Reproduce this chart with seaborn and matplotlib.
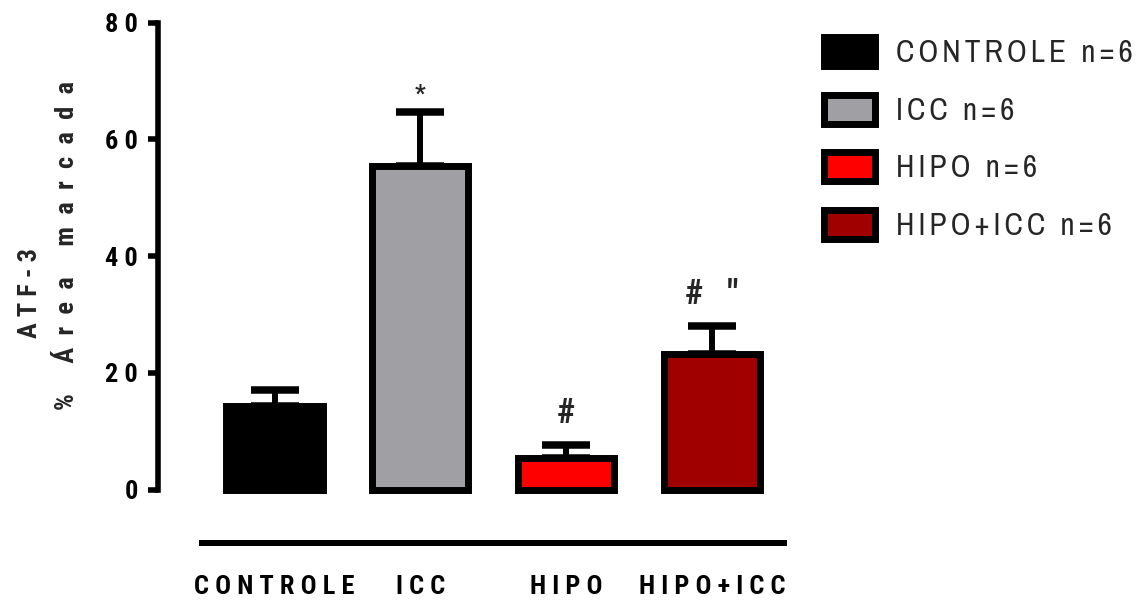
import matplotlib
matplotlib.use("Agg")
import matplotlib.pyplot as plt
from matplotlib import font_manager
from matplotlib.font_manager import FontProperties
from matplotlib.patches import Patch
import seaborn as sns
import pandas as pd

# Data
groups = ["CONTROLE", "ICC", "HIPO", "HIPO+ICC"]
means = [14.3, 55.4, 5.4, 23.3]
sems = [2.7, 9.3, 2.2, 4.7]
colors = ["#000000", "#a09fa4", "#ff0000", "#a00000"]
legend_labels = ["CONTROLE n=6", "ICC n=6", "HIPO n=6", "HIPO+ICC n=6"]
yticks = [0, 20, 40, 60, 80]

sns.set_theme(style="white")
FAMILY = ["Archivo Narrow", "Liberation Sans", "DejaVu Sans"]
plt.rcParams["font.family"] = FAMILY

# a bold narrow face for the axis texts
BOLD_NARROW = ["Roboto Condensed", "Archivo Narrow", "PT Sans Narrow",
               "Asap Condensed", "IBM Plex Sans Condensed", "Encode Sans Condensed",
               "Sofia Sans Condensed", "Saira SemiCondensed"]


def bold_file():
    fonts = font_manager.fontManager.ttflist
    for fam in BOLD_NARROW:
        hits = [f for f in fonts if f.name == fam and f.style == "normal"
                and isinstance(f.weight, int) and 650 <= f.weight <= 750]
        if hits:
            return hits[0].fname
    return None


_bf = bold_file()


def bold(size):
    if _bf:
        return FontProperties(fname=_bf, size=size)
    return FontProperties(family=["Liberation Sans"], weight="bold", size=size)


def spaced(s, sep=" "):
    return sep.join(s)


df = pd.DataFrame({"grupo": groups, "valor": means})

fig = plt.figure(figsize=(11.47, 6.01), dpi=100)
# axes box: y = 0 at 489.5 px, y = 80 at 22.7 px; first bar centre at 274.5 px, 145.8 px per bar
ax_left, ax_right = 158, 800
ax_top, ax_bot = 22.7, 489.5 + 5.835 * 1.0
ax = fig.add_axes([ax_left / 1147, (601 - ax_bot) / 601,
                   (ax_right - ax_left) / 1147, (ax_bot - ax_top) / 601])

sns.barplot(data=df, x="grupo", y="valor", hue="grupo", palette=colors,
            order=groups, hue_order=groups, legend=False, width=0.66,
            edgecolor="black", linewidth=5.0, ax=ax, errorbar=None, saturation=1)
for p in ax.patches:
    p.set_clip_on(False)

# upper-only error bars (SEM)
xs = list(range(len(groups)))
ax.errorbar(xs, means, yerr=[[0] * 4, sems], fmt="none", ecolor="black",
            elinewidth=4.3, capsize=17.6, capthick=5.4, zorder=0.5, clip_on=False)

ax.set_xlim(-(274.5 - ax_left) / 145.8, (ax_right - 274.5) / 145.8)
ax.set_ylim(-1.0, 80)
ax.spines["left"].set_bounds(0, 80)
ax.spines["left"].set_linewidth(4.0)
ax.spines["left"].set_color("black")
for s in ["top", "right", "bottom"]:
    ax.spines[s].set_visible(False)

ax.set_yticks(yticks)
ax.set_yticklabels([spaced(str(t)) for t in yticks], fontproperties=bold(19))
ax.tick_params(axis="y", length=7.5, width=4.0, color="black", pad=7, left=True,
               labelcolor="black")
ax.set_xticks(xs)
ax.set_xticklabels([spaced(g) for g in groups], fontproperties=bold(19),
                   color="black")
ax.tick_params(axis="x", length=0, pad=57)
ax.set_xlabel("")
ax.set_ylabel("")

# two-line y title
fig.text(30 / 1147, 1 - 293 / 601, spaced("ATF-3"), rotation=90, ha="center",
         va="center", fontproperties=bold(19))
fig.text(67 / 1147, 1 - 245 / 601, spaced("% Área marcada", "  "), rotation=90,
         ha="center", va="center", fontproperties=bold(19))

# group bracket under the bars
ax.plot([-0.518, 3.513], [-9.12, -9.12], color="black", lw=4.3, clip_on=False,
        solid_capstyle="butt")

# significance marks above the error bars
ax.text(1, sems[1] + means[1] + 3.0, "*", ha="center", va="center",
        fontproperties=bold(17))
ax.text(2, sems[2] + means[2] + 5.5, "#", ha="center", va="center",
        fontproperties=bold(25))
ax.text(3, sems[3] + means[3] + 5.5, "#   \"", ha="center", va="center",
        fontproperties=bold(25))

handles = [Patch(facecolor=c, edgecolor="black", linewidth=5.0) for c in colors]
fig.legend(handles, [spaced(l, "\u2009") for l in legend_labels],
           loc="upper left", bbox_to_anchor=(824 / 1147, 1 - 37 / 601),
           frameon=False, handlelength=1.62, handleheight=1.05,
           handletextpad=0.68, labelspacing=0.88, borderpad=0, borderaxespad=0,
           prop={"family": FAMILY, "size": 22.5})

fig.savefig("out.png", dpi=100)
